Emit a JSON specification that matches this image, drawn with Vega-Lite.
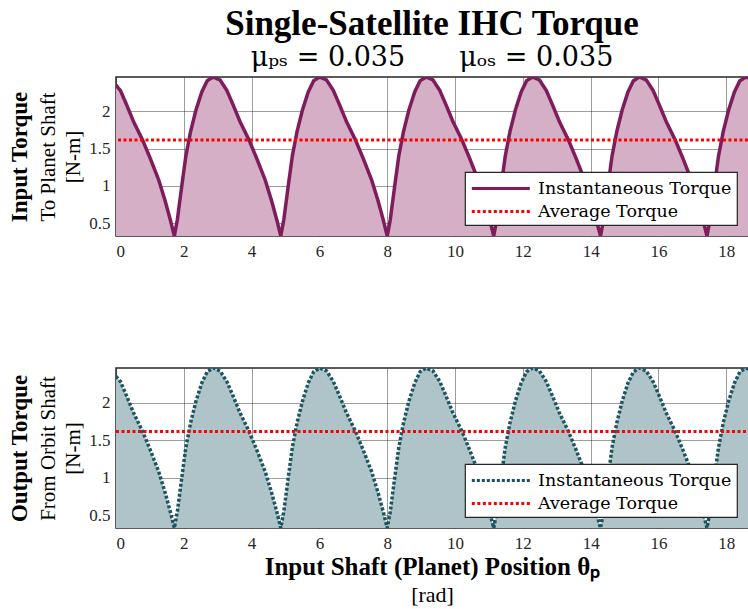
{
  "$schema": "https://vega.github.io/schema/vega-lite/v6.json",
  "padding": {"left": 7, "top": 6, "right": 0, "bottom": 0},
  "background": "white",
  "datasets": {
    "wave": [
      {"theta": 0.00, "torque": 2.35}, {"theta": 0.13, "torque": 2.28}, {"theta": 0.32, "torque": 2.08}, {"theta": 0.52, "torque": 1.86}, {"theta": 0.78, "torque": 1.62}, {"theta": 1.01, "torque": 1.37}, {"theta": 1.26, "torque": 1.08}, {"theta": 1.45, "torque": 0.80}, {"theta": 1.60, "torque": 0.55},
      {"theta": 1.72, "torque": 0.33}, {"theta": 1.81, "torque": 0.55}, {"theta": 1.94, "torque": 1.00}, {"theta": 2.06, "torque": 1.40}, {"theta": 2.20, "torque": 1.73}, {"theta": 2.36, "torque": 2.02}, {"theta": 2.53, "torque": 2.26}, {"theta": 2.69, "torque": 2.41}, {"theta": 2.87, "torque": 2.46}, {"theta": 3.07, "torque": 2.42}, {"theta": 3.27, "torque": 2.28}, {"theta": 3.46, "torque": 2.08}, {"theta": 3.66, "torque": 1.86}, {"theta": 3.92, "torque": 1.62}, {"theta": 4.15, "torque": 1.37}, {"theta": 4.40, "torque": 1.08}, {"theta": 4.59, "torque": 0.80}, {"theta": 4.74, "torque": 0.55},
      {"theta": 4.86, "torque": 0.33}, {"theta": 4.95, "torque": 0.55}, {"theta": 5.08, "torque": 1.00}, {"theta": 5.20, "torque": 1.40}, {"theta": 5.34, "torque": 1.73}, {"theta": 5.50, "torque": 2.02}, {"theta": 5.67, "torque": 2.26}, {"theta": 5.83, "torque": 2.41}, {"theta": 6.01, "torque": 2.46}, {"theta": 6.21, "torque": 2.42}, {"theta": 6.41, "torque": 2.28}, {"theta": 6.60, "torque": 2.08}, {"theta": 6.80, "torque": 1.86}, {"theta": 7.06, "torque": 1.62}, {"theta": 7.29, "torque": 1.37}, {"theta": 7.54, "torque": 1.08}, {"theta": 7.73, "torque": 0.80}, {"theta": 7.88, "torque": 0.55},
      {"theta": 8.00, "torque": 0.33}, {"theta": 8.09, "torque": 0.55}, {"theta": 8.22, "torque": 1.00}, {"theta": 8.34, "torque": 1.40}, {"theta": 8.48, "torque": 1.73}, {"theta": 8.64, "torque": 2.02}, {"theta": 8.81, "torque": 2.26}, {"theta": 8.97, "torque": 2.41}, {"theta": 9.15, "torque": 2.46}, {"theta": 9.35, "torque": 2.42}, {"theta": 9.55, "torque": 2.28}, {"theta": 9.74, "torque": 2.08}, {"theta": 9.94, "torque": 1.86}, {"theta": 10.20, "torque": 1.62}, {"theta": 10.43, "torque": 1.37}, {"theta": 10.68, "torque": 1.08}, {"theta": 10.87, "torque": 0.80}, {"theta": 11.02, "torque": 0.55},
      {"theta": 11.14, "torque": 0.33}, {"theta": 11.23, "torque": 0.55}, {"theta": 11.36, "torque": 1.00}, {"theta": 11.48, "torque": 1.40}, {"theta": 11.62, "torque": 1.73}, {"theta": 11.78, "torque": 2.02}, {"theta": 11.95, "torque": 2.26}, {"theta": 12.11, "torque": 2.41}, {"theta": 12.29, "torque": 2.46}, {"theta": 12.49, "torque": 2.42}, {"theta": 12.69, "torque": 2.28}, {"theta": 12.88, "torque": 2.08}, {"theta": 13.08, "torque": 1.86}, {"theta": 13.34, "torque": 1.62}, {"theta": 13.57, "torque": 1.37}, {"theta": 13.82, "torque": 1.08}, {"theta": 14.01, "torque": 0.80}, {"theta": 14.16, "torque": 0.55},
      {"theta": 14.29, "torque": 0.33}, {"theta": 14.38, "torque": 0.55}, {"theta": 14.51, "torque": 1.00}, {"theta": 14.63, "torque": 1.40}, {"theta": 14.77, "torque": 1.73}, {"theta": 14.93, "torque": 2.02}, {"theta": 15.10, "torque": 2.26}, {"theta": 15.26, "torque": 2.41}, {"theta": 15.44, "torque": 2.46}, {"theta": 15.64, "torque": 2.42}, {"theta": 15.84, "torque": 2.28}, {"theta": 16.03, "torque": 2.08}, {"theta": 16.23, "torque": 1.86}, {"theta": 16.49, "torque": 1.62}, {"theta": 16.72, "torque": 1.37}, {"theta": 16.97, "torque": 1.08}, {"theta": 17.16, "torque": 0.80}, {"theta": 17.31, "torque": 0.55},
      {"theta": 17.43, "torque": 0.33}, {"theta": 17.52, "torque": 0.55}, {"theta": 17.65, "torque": 1.00}, {"theta": 17.77, "torque": 1.40}, {"theta": 17.91, "torque": 1.73}, {"theta": 18.07, "torque": 2.02}, {"theta": 18.24, "torque": 2.26}, {"theta": 18.40, "torque": 2.41}, {"theta": 18.58, "torque": 2.46}, {"theta": 18.78, "torque": 2.42}
    ],
    "avg": [{"avg": 1.615, "x0": 0, "x1": 18.64}]
  },
  "config": {
    "font": "Liberation Serif",
    "style": {"guide-label": {"font": "Liberation Serif"}, "guide-title": {"font": "Liberation Serif"}},
    "view": {"stroke": "#262626", "strokeWidth": 1.5},
    "axis": {
      "grid": true, "gridColor": "#262626", "gridOpacity": 0.45, "gridWidth": 1,
      "ticks": false, "domain": false,
      "labelFont": "Liberation Serif", "titleFont": "Liberation Serif",
      "labelFontSize": 17, "labelColor": "#262626", "labelPadding": 6, "labelOverlap": false,
      "titleFontSize": 21, "titleFontWeight": "normal", "titleColor": "#000000",
      "zindex": 1
    },
    "legend": {
      "orient": "bottom-right", "offset": 11,
      "fillColor": "white", "strokeColor": "#262626", "strokeWidth": 1.2,
      "padding": 5, "symbolType": "M-1,0H5", "symbolSize": 374, "symbolStrokeWidth": 3,
      "labelFont": "DejaVu Serif", "labelFontSize": 17.5, "labelColor": "#000000", "labelOffset": 45, "labelLimit": 400, "rowPadding": 3,
      "titleFontSize": 0
    }
  },
  "spacing": 107,
  "resolve": {"scale": {"color": "independent", "strokeDash": "independent", "x": "independent", "y": "independent"}, "legend": {"color": "independent", "strokeDash": "independent"}},
  "vconcat": [
    {
      "width": 632, "height": 159,
      "title": {
        "text": "Single-Satellite IHC Torque",
        "subtitle": "μₚₛ = 0.035\u2003\u2003μₒₛ = 0.035",
        "anchor": "middle", "frame": "group",
        "font": "Liberation Serif", "fontSize": 35, "fontWeight": "bold", "color": "#000000",
        "subtitleFont": "DejaVu Serif", "subtitleFontSize": 27, "subtitleColor": "#000000",
        "subtitlePadding": 3, "offset": 6
      },
      "layer": [
        {
          "layer": [
            {
              "data": {"name": "wave"},
              "mark": {"type": "area", "color": "#d4afc6", "opacity": 1, "clip": true},
              "encoding": {
                "x": {"field": "theta", "type": "quantitative", "scale": {"domain": [0, 18.64], "nice": false, "zero": false}, "axis": {"title": null, "values": [0, 2, 4, 6, 8, 10, 12, 14, 16, 18], "labelPadding": 7}},
                "y": {"field": "torque", "type": "quantitative", "scale": {"domain": [0.33, 2.46], "nice": false, "zero": false}, "axis": {"orient": "left", "title": ["To Planet Shaft", "[N-m]"], "values": [0.5, 1, 1.5, 2], "format": "~g", "titlePadding": 5, "titleLineHeight": 25}}
              }
            },
            {
              "data": {"name": "wave"},
              "mark": {"type": "line", "strokeWidth": 3.5, "clip": true},
              "encoding": {
                "x": {"field": "theta", "type": "quantitative"},
                "y": {"field": "torque", "type": "quantitative"},
                "color": {"datum": "Instantaneous Torque", "type": "nominal", "scale": {"domain": ["Instantaneous Torque", "Average Torque"], "range": ["#7e1c5c", "#ff0000"]}, "legend": {"title": null}},
                "strokeDash": {"datum": "Instantaneous Torque", "type": "nominal", "scale": {"domain": ["Instantaneous Torque", "Average Torque"], "range": [[1, 0], [3, 2.5]]}, "legend": {"title": null}}
              }
            }
          ]
        },
        {
          "data": {"name": "avg"},
          "mark": {"type": "rule", "strokeWidth": 3},
          "encoding": {
            "y": {"field": "avg", "type": "quantitative", "scale": {"domain": [0.33, 2.46], "nice": false, "zero": false}, "axis": {"orient": "left", "offset": 83, "title": "Input Torque", "titleFontWeight": "bold", "titleFontSize": 23, "labels": false, "grid": false, "ticks": false, "domain": false, "titlePadding": 2}},
            "color": {"datum": "Average Torque", "type": "nominal"},
            "strokeDash": {"datum": "Average Torque", "type": "nominal"}
          }
        }
      ],
      "resolve": {"scale": {"y": "independent"}}
    },
    {
      "width": 632, "height": 160,
      "layer": [
        {
          "layer": [
            {
              "data": {"name": "wave"},
              "mark": {"type": "area", "color": "#aec4c9", "opacity": 1, "clip": true},
              "encoding": {
                "x": {"field": "theta", "type": "quantitative", "scale": {"domain": [0, 18.64], "nice": false, "zero": false}, "axis": {"orient": "bottom", "title": "Input Shaft (Planet) Position θₚ", "titleFontWeight": "bold", "titleFontSize": 25, "values": [0, 2, 4, 6, 8, 10, 12, 14, 16, 18], "labelPadding": 7, "titlePadding": 3}},
                "y": {"field": "torque", "type": "quantitative", "scale": {"domain": [0.33, 2.46], "nice": false, "zero": false}, "axis": {"orient": "left", "title": ["From Orbit Shaft", "[N-m]"], "values": [0.5, 1, 1.5, 2], "format": "~g", "titlePadding": 5, "titleLineHeight": 25}}
              }
            },
            {
              "data": {"name": "wave"},
              "mark": {"type": "line", "strokeWidth": 3.5, "clip": true},
              "encoding": {
                "x": {"field": "theta", "type": "quantitative"},
                "y": {"field": "torque", "type": "quantitative"},
                "color": {"datum": "Instantaneous Torque", "type": "nominal", "scale": {"domain": ["Instantaneous Torque", "Average Torque"], "range": ["#1c5461", "#ff0000"]}, "legend": {"title": null}},
                "strokeDash": {"datum": "Instantaneous Torque", "type": "nominal", "scale": {"domain": ["Instantaneous Torque", "Average Torque"], "range": [[3, 2], [3, 2.5]]}, "legend": {"title": null}}
              }
            }
          ]
        },
        {
          "data": {"name": "avg"},
          "mark": {"type": "rule", "strokeWidth": 3},
          "encoding": {
            "x": {"field": "x0", "type": "quantitative", "scale": {"domain": [0, 18.64], "nice": false, "zero": false}, "axis": {"orient": "bottom", "offset": 55, "title": "[rad]", "titleFontSize": 22, "labels": false, "grid": false, "ticks": false, "domain": false, "titlePadding": 1}},
            "x2": {"field": "x1"},
            "y": {"field": "avg", "type": "quantitative", "scale": {"domain": [0.33, 2.46], "nice": false, "zero": false}, "axis": {"orient": "left", "offset": 83, "title": "Output Torque", "titleFontWeight": "bold", "titleFontSize": 23, "labels": false, "grid": false, "ticks": false, "domain": false, "titlePadding": 2}},
            "color": {"datum": "Average Torque", "type": "nominal"},
            "strokeDash": {"datum": "Average Torque", "type": "nominal"}
          }
        }
      ],
      "resolve": {"scale": {"y": "independent", "x": "independent"}}
    }
  ]
}
